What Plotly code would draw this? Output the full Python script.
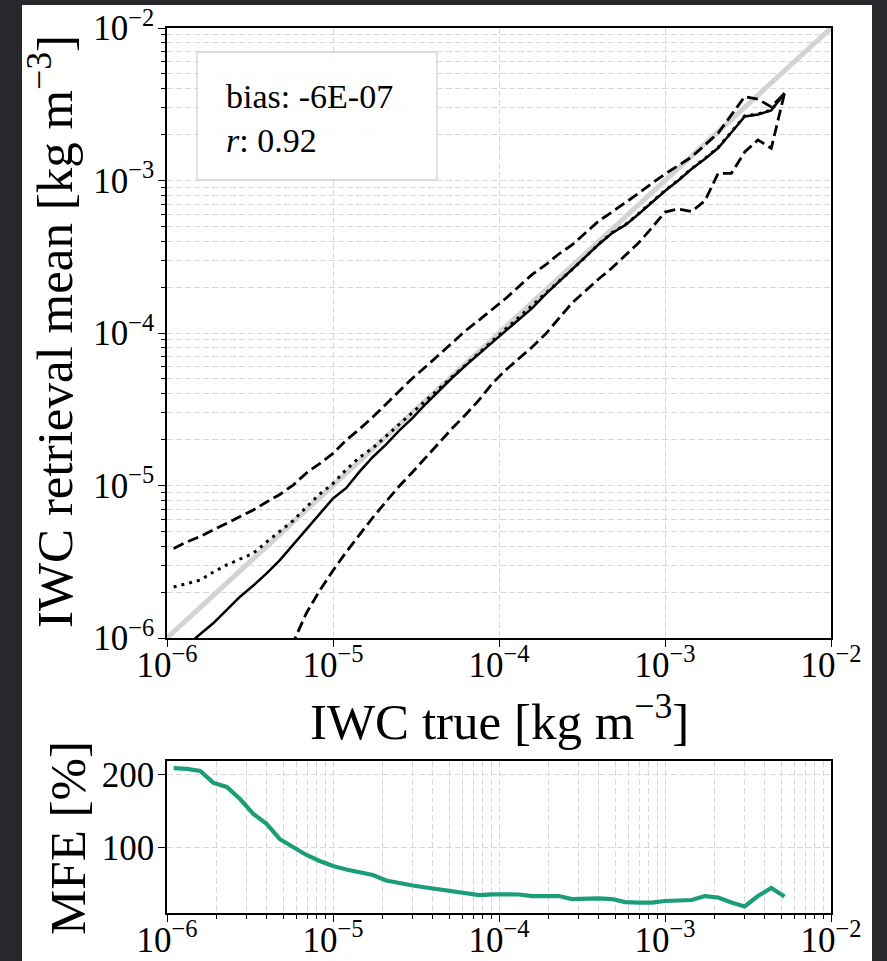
import plotly.graph_objects as go

# ---------------- data ----------------
# log10 of IWC-true bin centres [kg m^-3]
log_iwc_bins = [-5.96, -5.88, -5.80, -5.72, -5.64, -5.56, -5.48, -5.40, -5.32, -5.24,
                -5.16, -5.08, -5.00, -4.92, -4.84, -4.76, -4.68, -4.60, -4.52, -4.44,
                -4.36, -4.28, -4.20, -4.12, -4.04, -3.96, -3.88, -3.80, -3.72, -3.64,
                -3.56, -3.48, -3.40, -3.32, -3.24, -3.16, -3.08, -3.00, -2.92, -2.84,
                -2.76, -2.68, -2.60, -2.52, -2.44, -2.36, -2.28]

# log10 of retrieval statistics
log_median = [-6.12, -6.046, -5.974, -5.902, -5.816, -5.729, -5.656, -5.576, -5.489, -5.388,
              -5.289, -5.192, -5.085, -5.016, -4.909, -4.813, -4.731, -4.639, -4.557, -4.464,
              -4.377, -4.292, -4.212, -4.135, -4.060, -3.986, -3.911, -3.837, -3.747, -3.666,
              -3.584, -3.502, -3.420, -3.346, -3.293, -3.221, -3.144, -3.069, -3.000, -2.925,
              -2.859, -2.787, -2.685, -2.580, -2.567, -2.541, -2.428]
log_mean = [-5.666, -5.643, -5.620, -5.567, -5.521, -5.482, -5.445, -5.370, -5.298, -5.230,
            -5.141, -5.056, -4.987, -4.895, -4.815, -4.754, -4.676, -4.598, -4.520, -4.442,
            -4.365, -4.286, -4.210, -4.130, -4.055, -3.975, -3.895, -3.820, -3.740, -3.665,
            -3.585, -3.502, -3.418, -3.343, -3.290, -3.218, -3.142, -3.066, -2.997, -2.922,
            -2.856, -2.784, -2.682, -2.577, -2.564, -2.538, -2.428]
log_upper = [-5.413, -5.370, -5.334, -5.292, -5.248, -5.207, -5.161, -5.108, -5.059, -4.997,
             -4.918, -4.856, -4.790, -4.702, -4.630, -4.551, -4.466, -4.377, -4.295, -4.220,
             -4.141, -4.059, -3.984, -3.915, -3.846, -3.774, -3.695, -3.616, -3.554, -3.482,
             -3.423, -3.344, -3.266, -3.207, -3.148, -3.085, -3.020, -2.957, -2.902, -2.846,
             -2.767, -2.689, -2.570, -2.450, -2.466, -2.518, -2.428]
log_lower = [-7.30, -7.10, -6.95, -6.80, -6.65, -6.50, -6.38, -6.27, -6.15, -6.03,
             -5.836, -5.689, -5.557, -5.436, -5.321, -5.210, -5.105, -5.003, -4.911, -4.813,
             -4.715, -4.623, -4.534, -4.439, -4.331, -4.243, -4.167, -4.092, -4.007, -3.902,
             -3.803, -3.725, -3.646, -3.574, -3.495, -3.410, -3.311, -3.207, -3.187, -3.203,
             -3.134, -2.953, -2.953, -2.813, -2.734, -2.789, -2.428]

# mean fractional error [%]
mfe = [209.2, 208.2, 205.5, 189.0, 183.5, 167.0, 146.5, 133.0, 112.0, 101.4,
       90.4, 82.2, 75.3, 70.5, 67.1, 63.0, 55.5, 51.4, 48.6, 45.9,
       43.2, 40.4, 37.7, 35.6, 36.6, 36.6, 36.3, 34.2, 34.2, 34.2,
       30.1, 30.8, 31.1, 30.1, 26.0, 25.3, 25.3, 27.4, 28.0, 28.8,
       34.2, 32.2, 25.3, 19.9, 34.2, 45.2, 33.6]

axis_limits = [1e-6, 1e-2]
decades = [-6, -5, -4, -3, -2]
tick_labels = ["10<sup>\u22126</sup>", "10<sup>\u22125</sup>", "10<sup>\u22124</sup>",
               "10<sup>\u22123</sup>", "10<sup>\u22122</sup>"]
mfe_ticks = [100, 200]
bias_text = "bias: -6E-07"
r_text = "<i>r</i>: 0.92"

# ---------------- derived ----------------
x = [10 ** v for v in log_iwc_bins]
ymed = [10 ** v for v in log_median]
ymean = [10 ** v for v in log_mean]
yup = [10 ** v for v in log_upper]
ylo = [10 ** v for v in log_lower]
major_vals = [10 ** d for d in decades]
minor_vals = [k * 10 ** d for d in decades[:-1] for k in range(2, 10)]

W, H = 887, 961
FONT = "Liberation Serif"
GRID = "#d9d9d9"


def px(xp):
    return xp / W


def py(yp):
    return 1 - yp / H


fig = go.Figure()

fig.add_trace(go.Scatter(x=axis_limits, y=axis_limits, mode="lines",
                         line=dict(color="#d3d3d3", width=5), xaxis="x", yaxis="y"))
fig.add_trace(go.Scatter(x=x, y=yup, mode="lines",
                         line=dict(color="black", width=2.8, dash="11px,5px"), xaxis="x", yaxis="y"))
fig.add_trace(go.Scatter(x=x, y=ylo, mode="lines",
                         line=dict(color="black", width=2.8, dash="11px,5px"), xaxis="x", yaxis="y"))
fig.add_trace(go.Scatter(x=x, y=ymean, mode="lines",
                         line=dict(color="black", width=3, dash="3px,5px"), xaxis="x", yaxis="y"))
fig.add_trace(go.Scatter(x=x, y=ymed, mode="lines",
                         line=dict(color="black", width=2.5), xaxis="x", yaxis="y"))
fig.add_trace(go.Scatter(x=x, y=mfe, mode="lines",
                         line=dict(color="#1b9e77", width=4.2), xaxis="x2", yaxis="y2"))

tickfont = dict(family=FONT, size=35, color="black")
common = dict(showline=True, linecolor="black", linewidth=1.5, mirror=True,
              ticks="outside", ticklen=7, tickwidth=1.2, tickcolor="black",
              tickfont=tickfont, zeroline=False, automargin=False)

fig.update_layout(
    width=W, height=H,
    autosize=False,
    margin=dict(l=0, r=0, t=0, b=0, pad=0, autoexpand=False),
    paper_bgcolor="#27272c",
    plot_bgcolor="white",
    showlegend=False,
    xaxis=dict(type="log", range=[-6, -2], domain=[px(167), px(831)], anchor="y",
               tickmode="array", tickvals=major_vals, ticktext=tick_labels,
               ticklabelstandoff=-12,
               showgrid=True, gridcolor=GRID, griddash="6px,3px", gridwidth=1, **common),
    yaxis=dict(type="log", range=[-6, -2], domain=[py(638), py(28)], anchor="x",
               tickmode="array", tickvals=major_vals, ticktext=tick_labels,
               ticklabelstandoff=-3,
               showgrid=True, gridcolor=GRID, griddash="6px,3px", gridwidth=1,
               minor=dict(tickmode="array", tickvals=minor_vals, ticks="outside", ticklen=4,
                          tickcolor="black", showgrid=True, gridcolor=GRID,
                          griddash="6px,3px", gridwidth=1),
               **common),
    xaxis2=dict(type="log", range=[-6, -2], domain=[px(167), px(831)], anchor="y2",
                tickmode="array", tickvals=major_vals, ticktext=tick_labels,
                ticklabelstandoff=-12,
                showgrid=True, gridcolor=GRID, griddash="6px,3px", gridwidth=1,
                minor=dict(tickmode="array", tickvals=minor_vals, ticks="outside", ticklen=4,
                           tickcolor="black", showgrid=True, gridcolor=GRID,
                           griddash="6px,3px", gridwidth=1),
                **common),
    yaxis2=dict(range=[11, 219], domain=[py(913), py(761)], anchor="x2",
                tickmode="array", tickvals=mfe_ticks, ticktext=[str(v) for v in mfe_ticks],
                ticklabelstandoff=-3,
                showgrid=True, gridcolor=GRID, griddash="6px,3px", gridwidth=1, **common),
    shapes=[
        dict(type="rect", xref="paper", yref="paper", x0=px(22), x1=px(872), y0=-0.01, y1=py(5),
             fillcolor="white", line=dict(width=0), layer="below"),
        dict(type="rect", xref="paper", yref="paper", x0=px(197), x1=px(437), y0=py(180), y1=py(52),
             fillcolor="rgba(255,255,255,0.8)", line=dict(color="#d6d6d6", width=1.5), layer="above"),
    ],
)

title_font = dict(family=FONT, size=51, color="black")
fig.add_annotation(text="IWC true [kg m<sup>\u22123</sup>]", xref="paper", yref="paper",
                   x=px(499), y=py(718), xanchor="center", yanchor="middle",
                   showarrow=False, font=title_font)
fig.add_annotation(text="IWC retrieval mean [kg m<sup>\u22123</sup>]", xref="paper", yref="paper",
                   x=px(51), y=py(332), xanchor="center", yanchor="middle", textangle=-90,
                   showarrow=False, font=title_font)
fig.add_annotation(text="MFE [%]", xref="paper", yref="paper",
                   x=px(68), y=py(838), xanchor="center", yanchor="middle", textangle=-90,
                   showarrow=False, font=title_font)

box_font = dict(family=FONT, size=34, color="black")
fig.add_annotation(text=bias_text, xref="paper", yref="paper", x=px(224), y=py(96.5),
                   xanchor="left", yanchor="middle", showarrow=False, font=box_font)
fig.add_annotation(text=r_text, xref="paper", yref="paper", x=px(224), y=py(140.5),
                   xanchor="left", yanchor="middle", showarrow=False, font=box_font)

fig.write_html("out.html")
